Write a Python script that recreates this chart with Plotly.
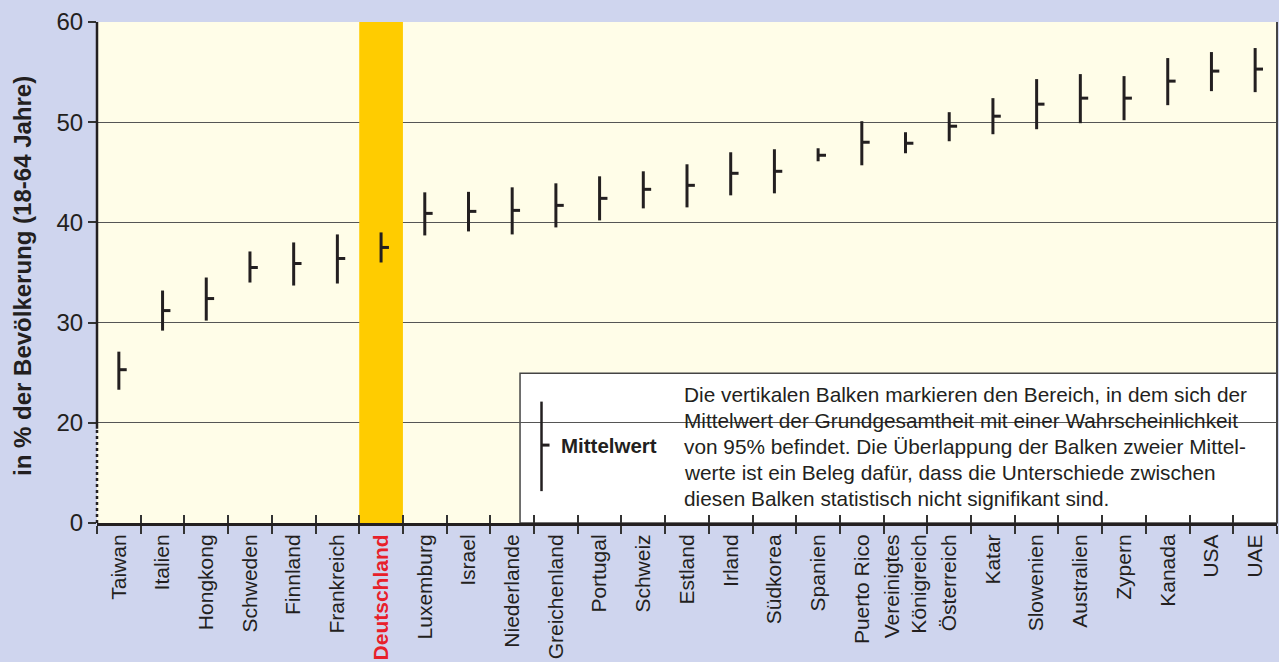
import plotly.graph_objects as go

# Länder, sortiert nach Mittelwert
countries = ["Taiwan", "Italien", "Hongkong", "Schweden", "Finnland", "Frankreich",
             "Deutschland", "Luxemburg", "Israel", "Niederlande", "Greichenland",
             "Portugal", "Schweiz", "Estland", "Irland", "Südkorea", "Spanien",
             "Puerto Rico", "Vereinigtes<br>Königreich", "Österreich", "Katar",
             "Slowenien", "Australien", "Zypern", "Kanada", "USA", "UAE"]

mean = [25.3, 31.2, 32.4, 35.5, 35.9, 36.4, 37.5, 40.9, 41.1, 41.2, 41.7, 42.4,
        43.3, 43.7, 44.9, 45.1, 46.7, 48.0, 47.9, 49.6, 50.6, 51.8, 52.4, 52.4,
        54.1, 55.1, 55.3]
lower = [23.3, 29.2, 30.2, 34.0, 33.7, 33.9, 36.0, 38.7, 39.1, 38.8, 39.5, 40.2,
         41.4, 41.5, 42.7, 42.9, 46.1, 45.7, 46.9, 48.1, 48.8, 49.3, 49.9, 50.2,
         51.7, 53.1, 53.0]
upper = [27.1, 33.2, 34.5, 37.1, 38.0, 38.8, 39.0, 43.0, 43.05, 43.5, 43.9, 44.6,
         45.1, 45.8, 47.0, 47.3, 47.4, 50.1, 49.0, 51.0, 52.4, 54.3, 54.8, 54.6,
         56.4, 57.0, 57.4]

# y-Achse ist unterbrochen: 0 wird an der Position 10 gezeichnet
y_tickvals = [10, 20, 30, 40, 50, 60]
y_ticktext = ["0", "20", "30", "40", "50", "60"]

highlight = "Deutschland"

legend_lines = [
    "Die vertikalen Balken markieren den Bereich, in dem sich der",
    "Mittelwert der Grundgesamtheit mit einer Wahrscheinlichkeit",
    "von 95% befindet. Die Überlappung der Balken zweier Mittel-",
    "werte ist ein Beleg dafür, dass die Unterschiede zwischen",
    "diesen Balken statistisch nicht signifikant sind.",
]

FONT = "Liberation Sans, Arial, sans-serif"
INK = "#231f20"
BG = "#cfd5ee"
PLOT_BG = "#fffde8"

idx = list(range(len(countries)))
ticktext = [f"<b><span style='color:#e8202a'>{c}</span></b>" if c == highlight else c
            for c in countries]

fig = go.Figure()

# Konfidenzbalken + Mittelwert-Strich nach rechts
fig.add_trace(go.Scatter(
    x=idx,
    y=mean,
    mode="markers",
    marker=dict(size=1, color="rgba(0,0,0,0)"),
    error_y=dict(type="data", symmetric=False,
                 array=[u - m for u, m in zip(upper, mean)],
                 arrayminus=[m - l for m, l in zip(mean, lower)],
                 width=0, thickness=3, color=INK),
    error_x=dict(type="data", symmetric=False,
                 array=[0.18] * len(idx), arrayminus=[0] * len(idx),
                 width=0, thickness=3, color=INK),
    hoverinfo="skip",
    showlegend=False,
))

hi = countries.index(highlight)
shapes = [
    # Hervorhebung Deutschland
    dict(type="rect", xref="x", yref="y", x0=hi - 0.5, x1=hi + 0.5, y0=10, y1=60,
         fillcolor="#ffcc00", line_width=0, layer="between"),
    # Legendenkasten
    dict(type="rect", xref="paper", yref="paper", x0=0.3585, x1=1, y0=0, y1=0.299,
         fillcolor="white", line=dict(color="#444", width=1.5), layer="between"),
    dict(type="line", xref="paper", yref="paper", x0=0.3767, x1=0.3767, y0=0.0636, y1=0.2423,
         line=dict(color=INK, width=2.5)),
    dict(type="line", xref="paper", yref="paper", x0=0.3767, x1=0.3835, y0=0.1555, y1=0.1555,
         line=dict(color=INK, width=3)),
    # y-Achse: durchgezogen ab 20, gepunktet darunter (Achsenbruch)
    dict(type="line", xref="paper", yref="y", x0=0, x1=0, y0=19.4, y1=60,
         line=dict(color=INK, width=2.5)),
    dict(type="line", xref="paper", yref="y", x0=0, x1=0, y0=10, y1=19.4,
         line=dict(color=INK, width=2.5, dash="dot")),
    # rechter Rand
    dict(type="line", xref="paper", yref="y", x0=1, x1=1, y0=10, y1=60,
         line=dict(color="#444", width=2)),
]

annotations = [
    dict(text="<b>in % der Bevölkerung (18-64 Jahre)</b>", xref="paper", yref="paper",
         x=-0.0636, y=0.493, textangle=-90, showarrow=False,
         font=dict(family=FONT, size=24, color=INK), xanchor="center", yanchor="middle"),
    dict(text="<b>Mittelwert</b>", xref="paper", yref="paper", x=0.3915, y=0.1555,
         showarrow=False, xanchor="left", yanchor="middle",
         font=dict(family=FONT, size=20.5, color=INK)),
]
line_y = [0.2562, 0.2046, 0.1529, 0.1013, 0.0497]
for txt, ly in zip(legend_lines, line_y):
    annotations.append(dict(text=txt, xref="paper", yref="paper", x=0.4958, y=ly,
                            showarrow=False, xanchor="left", yanchor="middle",
                            font=dict(family=FONT, size=20.8, color=INK)))

fig.update_layout(
    width=1279, height=662,
    margin=dict(l=97, r=2, t=22, b=133),
    paper_bgcolor=BG,
    plot_bgcolor=PLOT_BG,
    font=dict(family=FONT, color=INK),
    shapes=shapes,
    annotations=annotations,
    xaxis=dict(
        range=[-0.5, len(countries) - 0.5],
        tickmode="array", tickvals=idx, ticktext=ticktext,
        tickangle=-90, tickfont=dict(family=FONT, size=21, color=INK),
        ticks="", showgrid=False, zeroline=False,
        showline=True, linecolor=INK, linewidth=3,
        minor=dict(tickmode="linear", tick0=0.5, dtick=1, ticks="outside",
                   ticklen=8, tickwidth=1.5, tickcolor="#333", showgrid=False),
    ),
    xaxis2=dict(
        overlaying="x", matches="x", side="bottom", anchor="y",
        tickmode="array", tickvals=[i - 0.5 for i in idx] + [len(idx) - 0.5],
        ticks="inside", ticklen=8, tickwidth=1.5, tickcolor="#333",
        showticklabels=False, showgrid=False, zeroline=False, showline=False,
    ),
    yaxis=dict(
        range=[10, 60],
        tickmode="array", tickvals=y_tickvals, ticktext=y_ticktext,
        tickfont=dict(family=FONT, size=24, color=INK),
        ticks="outside", ticklen=8, tickwidth=1.5, tickcolor="#333",
        showgrid=True, gridcolor="#555", gridwidth=1.3,
        zeroline=False, showline=False,
    ),
)

# leere Spur, damit xaxis2 gezeichnet wird
fig.add_trace(go.Scatter(x=[None], y=[None], xaxis="x2", yaxis="y",
                         showlegend=False, hoverinfo="skip"))

# Seitenrand des Browsers entfernen, damit die Grafik bei 0,0 beginnt
fig.write_html("out.html", config={"displayModeBar": False},
               post_script="document.body.style.margin='0px';")
